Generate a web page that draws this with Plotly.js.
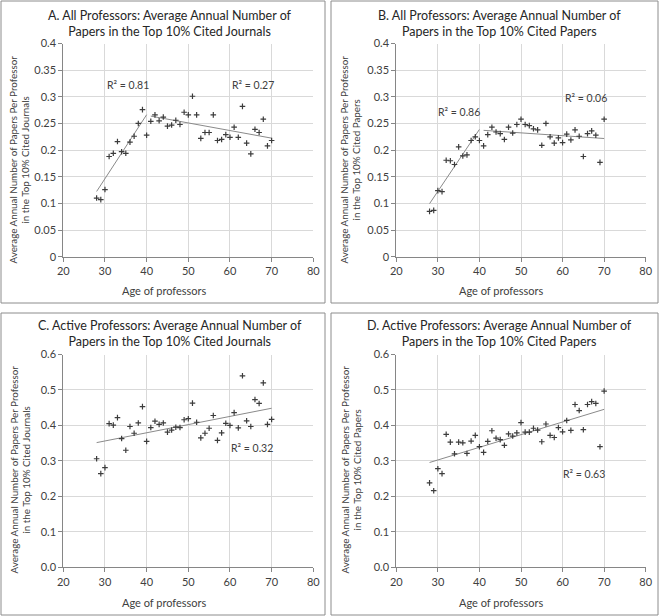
<!DOCTYPE html>
<html>
<head>
<meta charset="utf-8">
<script src="https://cdn.plot.ly/plotly-3.0.1.min.js"></script>
<style>
  html, body { margin: 0; padding: 0; background: #ffffff; }
  #chart { width: 659px; height: 616px; }
</style>
</head>
<body>
<div id="chart"></div>
<script>
// ---- Data ----
const ages = [28, 29, 30, 31, 32, 33, 34, 35, 36, 37, 38, 39, 40, 41, 42, 43, 44, 45, 46, 47, 48, 49,
              50, 51, 52, 53, 54, 55, 56, 57, 58, 59, 60, 61, 62, 63, 64, 65, 66, 67, 68, 69, 70];

// A. All professors, top 10% cited journals
const allJournals = [0.110, 0.107, 0.126, 0.188, 0.194, 0.216, 0.197, 0.194, 0.215, 0.226, 0.250, 0.276, 0.228,
                     0.254, 0.266, 0.255, 0.262, 0.245, 0.247, 0.256, 0.248, 0.271, 0.266, 0.301, 0.266,
                     0.222, 0.233, 0.233, 0.266, 0.218, 0.220, 0.229, 0.224, 0.243, 0.224, 0.282, 0.213,
                     0.193, 0.239, 0.233, 0.258, 0.208, 0.218];

// B. All professors, top 10% cited papers
const allPapers = [0.085, 0.087, 0.124, 0.122, 0.181, 0.180, 0.173, 0.206, 0.189, 0.191, 0.218, 0.225, 0.218,
                   0.208, 0.229, 0.243, 0.234, 0.231, 0.220, 0.243, 0.232, 0.248, 0.258, 0.248, 0.246,
                   0.240, 0.238, 0.209, 0.250, 0.225, 0.213, 0.223, 0.214, 0.230, 0.219, 0.238, 0.226,
                   0.188, 0.231, 0.236, 0.228, 0.177, 0.258];

// C. Active professors, top 10% cited journals
const activeJournals = [0.306, 0.264, 0.281, 0.405, 0.401, 0.422, 0.363, 0.330, 0.397, 0.378, 0.407, 0.453, 0.355,
                        0.394, 0.412, 0.403, 0.407, 0.381, 0.387, 0.395, 0.394, 0.416, 0.419, 0.463, 0.409,
                        0.365, 0.378, 0.392, 0.428, 0.358, 0.379, 0.406, 0.400, 0.436, 0.393, 0.540, 0.413,
                        0.397, 0.473, 0.462, 0.520, 0.403, 0.417];

// D. Active professors, top 10% cited papers
const activePapers = [0.238, 0.216, 0.278, 0.264, 0.375, 0.353, 0.320, 0.353, 0.351, 0.321, 0.356, 0.372, 0.340,
                      0.324, 0.355, 0.385, 0.364, 0.360, 0.344, 0.376, 0.370, 0.379, 0.408, 0.381, 0.381,
                      0.392, 0.387, 0.354, 0.404, 0.372, 0.366, 0.394, 0.382, 0.414, 0.386, 0.459, 0.442,
                      0.388, 0.459, 0.467, 0.462, 0.340, 0.497];

// Age ranges over which linear trend lines were fitted
const trendRangesA = [[28, 40], [41, 70]];
const trendRangesB = [[28, 40], [41, 70]];
const trendRangesC = [[28, 70]];
const trendRangesD = [[28, 70]];

// R² labels: [text, age position, value position]
const r2LabelsA = [["R² = 0.81", 35.5, 0.323], ["R² = 0.27", 65.6, 0.323]];
const r2LabelsB = [["R² = 0.86", 35.1, 0.271], ["R² = 0.06", 65.6, 0.297]];
const r2LabelsC = [["R² = 0.32", 65.4, 0.335]];
const r2LabelsD = [["R² = 0.63", 65.2, 0.262]];

const panelTitles = [
  "A. All Professors: Average Annual Number of<br>Papers in the Top 10% Cited Journals",
  "B. All Professors: Average Annual Number of<br>Papers in the Top 10% Cited Papers",
  "C. Active Professors: Average Annual Number of<br>Papers in the Top 10% Cited Journals",
  "D. Active Professors: Average Annual Number of<br>Papers in the Top 10% Cited Papers"
];
const yTitles = [
  "Average Annual Number of Papers Per Professor<br>in the Top 10% Cited Journals",
  "Average Annual Number of Papers Per Professor<br>in the Top 10% Cited Papers",
  "Average Annual Number of Papers Per Professor<br>in the Top 10% Cited Journals",
  "Average Annual Number of Papers Per Professor<br>in the Top 10% Cited Papers"
];
const xTitle = "Age of professors";

// ---- Helpers ----
function linearFit(xs, ys, lo, hi) {
  const px = [], py = [];
  xs.forEach((x, i) => { if (x >= lo && x <= hi) { px.push(x); py.push(ys[i]); } });
  const n = px.length;
  const mx = px.reduce((a, b) => a + b, 0) / n;
  const my = py.reduce((a, b) => a + b, 0) / n;
  let sxy = 0, sxx = 0;
  for (let i = 0; i < n; i++) { sxy += (px[i] - mx) * (py[i] - my); sxx += (px[i] - mx) ** 2; }
  const b = sxy / sxx, a = my - b * mx;
  return { x: [lo, hi], y: [a + b * lo, a + b * hi] };
}

const FONT = "Lato, 'Liberation Sans', sans-serif";
const TXT = "#404040";

const panels = [
  { ys: allJournals, ranges: trendRangesA, r2: r2LabelsA, xa: "x", ya: "y" },
  { ys: allPapers, ranges: trendRangesB, r2: r2LabelsB, xa: "x2", ya: "y2" },
  { ys: activeJournals, ranges: trendRangesC, r2: r2LabelsC, xa: "x3", ya: "y3" },
  { ys: activePapers, ranges: trendRangesD, r2: r2LabelsD, xa: "x4", ya: "y4" }
];

const traces = [];
const annotations = [];
panels.forEach((p) => {
  p.ranges.forEach(([lo, hi]) => {
    const f = linearFit(ages, p.ys, lo, hi);
    traces.push({
      x: f.x, y: f.y, xaxis: p.xa, yaxis: p.ya, type: "scatter", mode: "lines",
      line: { color: "#8a8a8a", width: 1 }, hoverinfo: "skip", showlegend: false
    });
  });
  traces.push({
    x: ages, y: p.ys, xaxis: p.xa, yaxis: p.ya, type: "scatter", mode: "markers",
    marker: { symbol: "cross-thin", size: 4, line: { width: 1.2, color: "#3c3c3c" }, color: "#3c3c3c" },
    showlegend: false
  });
  p.r2.forEach(([t, x, y]) => {
    annotations.push({ text: t, x: x, y: y, xref: p.xa, yref: p.ya, showarrow: false,
      font: { family: FONT, size: 10.5, color: TXT } });
  });
});

// Panel geometry in pixels (left column / right column, top row / bottom row)
const W = 659, H = 616;
const cols = [{ x0: 63.3, x1: 313.3, bx0: 1, bx1: 325, cx: 170, xtx: 164, ytx: 19.5 },
              { x0: 396.3, x1: 645.7, bx0: 331, bx1: 658, cx: 499, xtx: 501, ytx: 350.5 }];
const rows = [{ y0: 43.5, y1: 256.7, by0: 1, by1: 303, t1: 13.3, xty: 290, ytc: 160 },
              { y0: 354.5, y1: 567.3, by0: 313, by1: 615, t1: 323.3, xty: 602.7, ytc: 470 }];

const shapes = [];
const layout = {
  width: W, height: H, margin: { l: 0, r: 0, t: 0, b: 0 },
  paper_bgcolor: "#ffffff", plot_bgcolor: "#ffffff",
  font: { family: FONT, color: TXT },
  showlegend: false, annotations: annotations, shapes: shapes
};

[0, 1, 2, 3].forEach((k) => {
  const c = cols[k % 2], r = rows[Math.floor(k / 2)];
  const sfx = k === 0 ? "" : String(k + 1);
  const top = k < 2;
  layout["xaxis" + sfx] = {
    domain: [c.x0 / W, c.x1 / W], anchor: "y" + sfx, range: [20, 80], dtick: 10, tick0: 20,
    showgrid: true, gridcolor: "#d9d9d9", gridwidth: 1, zeroline: false,
    showline: true, linecolor: "#868686", linewidth: 1,
    ticks: "outside", ticklen: 4, tickcolor: "#868686",
    tickfont: { family: FONT, size: 11, color: TXT }, fixedrange: true
  };
  layout["yaxis" + sfx] = {
    domain: [1 - r.y1 / H, 1 - r.y0 / H], anchor: "x" + sfx,
    range: top ? [0, 0.4] : [0, 0.6], dtick: top ? 0.05 : 0.1, tick0: 0,
    tickformat: top ? "" : ".1f",
    showgrid: true, gridcolor: "#d9d9d9", gridwidth: 1, zeroline: false,
    showline: true, linecolor: "#868686", linewidth: 1,
    ticks: "outside", ticklen: 4, tickcolor: "#868686",
    tickfont: { family: FONT, size: 11, color: TXT }, fixedrange: true
  };
  shapes.push({ type: "rect", xref: "paper", yref: "paper", layer: "below",
    x0: c.bx0 / W, x1: c.bx1 / W, y0: 1 - r.by1 / H, y1: 1 - r.by0 / H,
    line: { color: "#8c8c8c", width: 1 }, fillcolor: "rgba(0,0,0,0)" });
  annotations.push({ text: panelTitles[k], xref: "paper", yref: "paper",
    x: c.cx / W, y: 1 - (r.t1 - 7) / H, xanchor: "center", yanchor: "top", showarrow: false,
    font: { family: FONT, size: 12.5, color: "#262626" } });
  annotations.push({ text: yTitles[k], xref: "paper", yref: "paper", textangle: -90,
    x: c.ytx / W, y: 1 - r.ytc / H, xanchor: "center", yanchor: "middle", showarrow: false,
    font: { family: FONT, size: 9.8, color: TXT } });
  annotations.push({ text: xTitle, xref: "paper", yref: "paper",
    x: c.xtx / W, y: 1 - r.xty / H, xanchor: "center", yanchor: "middle", showarrow: false,
    font: { family: FONT, size: 11, color: TXT } });
});

Plotly.newPlot("chart", traces, layout, { staticPlot: true, displayModeBar: false });
</script>
</body>
</html>
